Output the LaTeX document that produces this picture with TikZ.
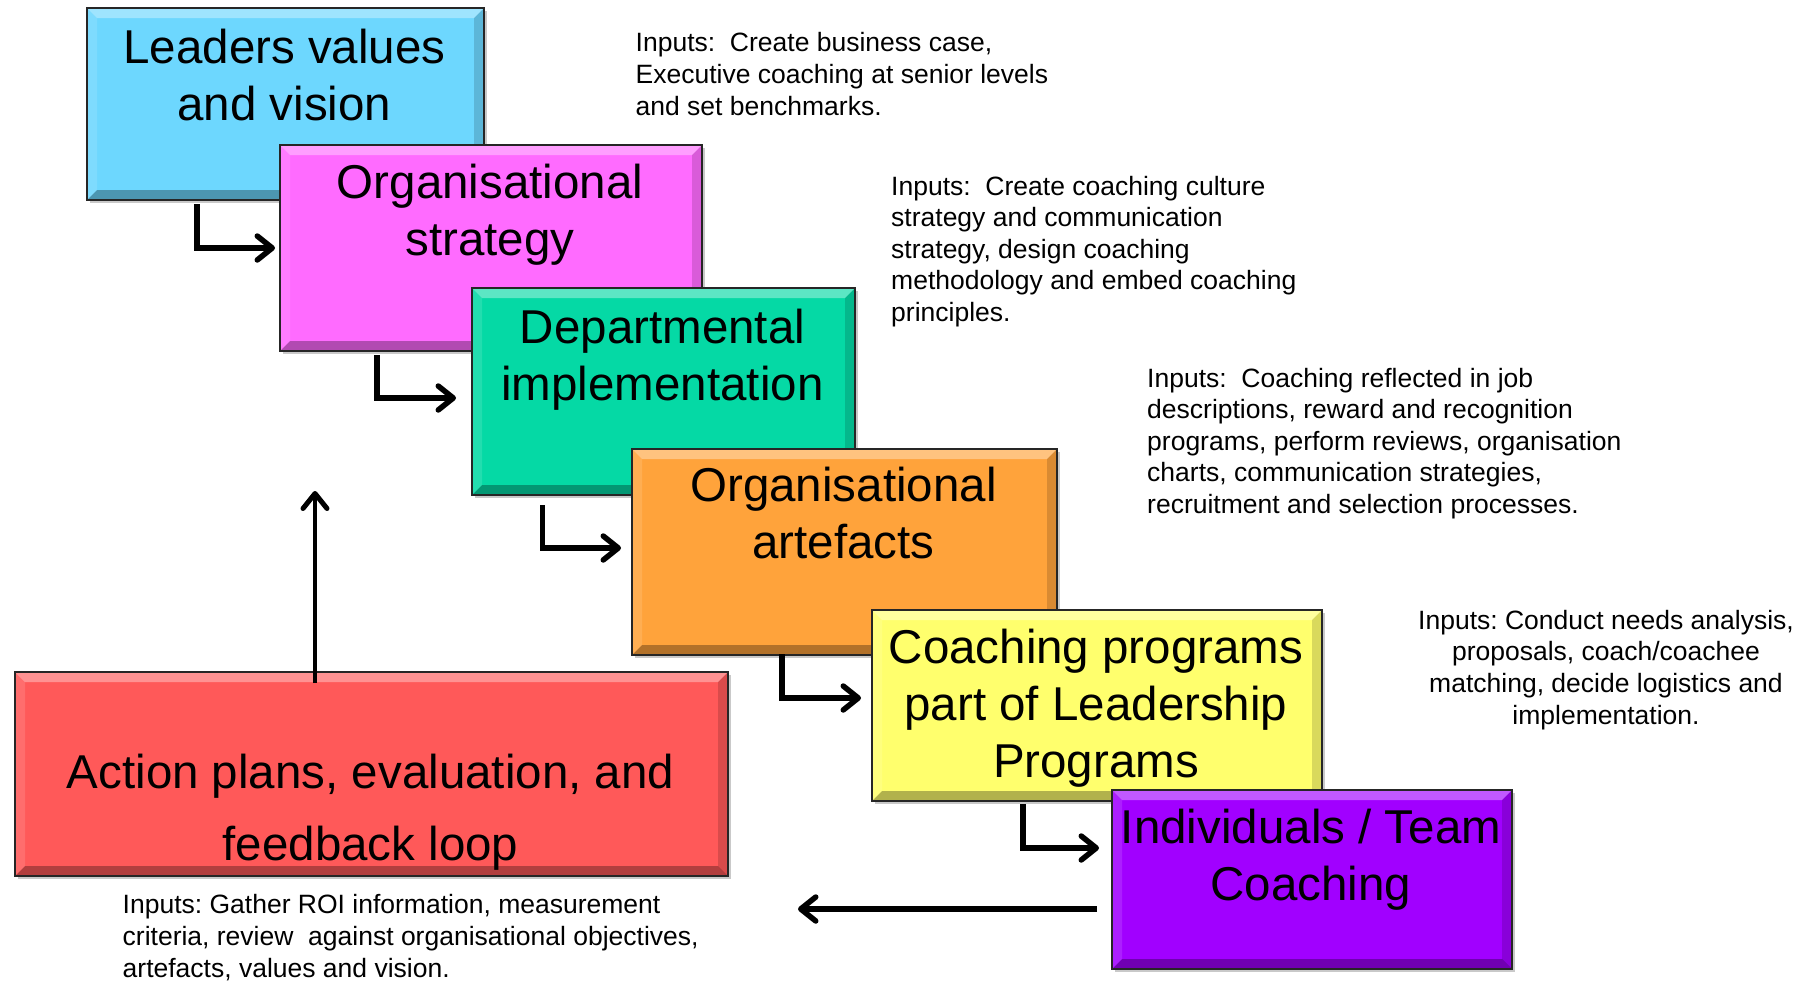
\documentclass[tikz,border=0pt]{standalone}
\usepackage{fontspec}
\setmainfont{Liberation Sans}
\frenchspacing
\usetikzlibrary{arrows.meta,shadows,calc}
\definecolor{cyanbox}{HTML}{6DD7FE}
\definecolor{magbox}{HTML}{FF6BFF}
\definecolor{greenbox}{HTML}{05D9A5}
\definecolor{orangebox}{HTML}{FFA33B}
\definecolor{yellowbox}{HTML}{FFFF6D}
\definecolor{purplebox}{HTML}{A100FF}
\definecolor{redbox}{HTML}{FF5959}
\tikzset{
  stepbox/.style={rectangle, draw=black!85, line width=2.2pt, inner sep=0pt, anchor=north west,
    drop shadow={shadow xshift=3pt, shadow yshift=-3pt, opacity=0.35, fill=black!60},
    path picture={
      \fill[white,opacity=0.35] (path picture bounding box.north west) -- (path picture bounding box.north east)
        -- ([shift={(-10pt,-10pt)}]path picture bounding box.north east) -- ([shift={(10pt,-10pt)}]path picture bounding box.north west) -- cycle;
      \fill[black,opacity=0.30] (path picture bounding box.south west) -- (path picture bounding box.south east)
        -- ([shift={(-10pt,10pt)}]path picture bounding box.south east) -- ([shift={(10pt,10pt)}]path picture bounding box.south west) -- cycle;
      \fill[black,opacity=0.15] (path picture bounding box.north east) -- (path picture bounding box.south east)
        -- ([shift={(-10pt,10pt)}]path picture bounding box.south east) -- ([shift={(-10pt,-10pt)}]path picture bounding box.north east) -- cycle;
      \fill[white,opacity=0.12] (path picture bounding box.north west) -- (path picture bounding box.south west)
        -- ([shift={(10pt,10pt)}]path picture bounding box.south west) -- ([shift={(10pt,-10pt)}]path picture bounding box.north west) -- cycle;
    }},
  boxtext/.style={anchor=base, align=center, inner sep=0pt, font=\fontsize{47.5}{57}\selectfont},
  redtext/.style={anchor=base, align=center, inner sep=0pt, font=\fontsize{47.5}{72}\selectfont},
  inputs/.style={anchor=base west, align=left, inner sep=0pt, font=\fontsize{26.5}{31.6}\selectfont},
  inputsc/.style={anchor=base, align=center, inner sep=0pt, font=\fontsize{26.5}{31.6}\selectfont},
  arr/.style={line width=5.2pt, -{Straight Barb[length=15pt,width=24pt,line width=5.5pt,round]}},
  arrthin/.style={line width=4.5pt, -{Straight Barb[length=15pt,width=24pt,line width=5pt,round]}},
}
\begin{document}
\begin{tikzpicture}[x=1pt,y=-1pt]
\useasboundingbox (0,0) rectangle (1813,982);
\fill[white] (0,0) rectangle (1813,982);

% boxes (text nodes placed by the baseline of their last line)
\node[stepbox, fill=cyanbox, minimum width=397pt, minimum height=192pt] (b1) at (86,7) {};
\node[boxtext] (t1) at (284.5,120) {Leaders values\\and vision};
\node[stepbox, fill=magbox, minimum width=422pt, minimum height=206pt] (b2) at (279,144) {};
\node[boxtext] (t2) at (490,255) {Organisational\\strategy};
\node[stepbox, fill=greenbox, minimum width=383pt, minimum height=207pt] (b3) at (471,287) {};
\node[boxtext] (t3) at (662.5,400) {Departmental\\implementation};
\node[stepbox, fill=orangebox, minimum width=425pt, minimum height=206pt] (b4) at (631,448) {};
\node[boxtext] (t4) at (843.5,558) {Organisational\\artefacts};
\node[stepbox, fill=yellowbox, minimum width=450pt, minimum height=191pt] (b5) at (871,609) {};
\node[boxtext] (t5) at (1096,777) {Coaching programs\\part of Leadership\\Programs};
\node[stepbox, fill=purplebox, minimum width=400pt, minimum height=179pt] (b6) at (1111,789) {};
\node[boxtext] (t6) at (1311,900) {Individuals / Team\\Coaching};
\node[stepbox, fill=redbox, minimum width=713pt, minimum height=204pt] (b7) at (14,671) {};
\node[redtext] (t7) at (370.5,860) {Action plans, evaluation, and\\feedback loop};

% input texts
\node[inputs] (i1) at (635.5,115) {Inputs:\ \ Create business case,\\Executive coaching at senior levels\\and set benchmarks.};
\node[inputs] (i2) at (891,321.5) {Inputs:\ \ Create coaching culture\\strategy and communication\\strategy, design coaching\\methodology and embed coaching\\principles.};
\node[inputs] (i3) at (1147,513.5) {Inputs:\ \ Coaching reflected in job\\descriptions, reward and recognition\\programs, perform reviews, organisation\\charts, communication strategies,\\recruitment and selection processes.};
\node[inputsc] (i4) at (1606,724) {Inputs: Conduct needs analysis,\\proposals, coach/coachee\\matching, decide logistics and\\implementation.};
\node[inputs] (i5) at (122.5,977) {Inputs: Gather ROI information, measurement\\criteria, review\ \ against organisational objectives,\\artefacts, values and vision.};

% connectors
\draw[arr] ([shift={(111pt,-3pt)}]b1.south west) |- ([shift={(-4pt,-104pt)}]b2.north west);
\draw[arr] ([shift={(98pt,-3pt)}]b2.south west) |- ([shift={(-15pt,-111pt)}]b3.north west);
\draw[arr] ([shift={(71.5pt,-9pt)}]b3.south west) |- ([shift={(-10pt,-100pt)}]b4.north west);
\draw[arr] ([shift={(151pt,2pt)}]b4.south west) |- ([shift={(-10pt,-89pt)}]b5.north west);
\draw[arr] ([shift={(152pt,-2pt)}]b5.south west) |- ([shift={(-12pt,-59pt)}]b6.north west);

\coordinate (fbtop) at (315,491);
\coordinate (fbleft) at (798,909);
\draw[arrthin] ([shift={(301pt,-12pt)}]b7.north west) -- (fbtop);
\draw[arr] ([xshift=-14pt]b6.west |- fbleft) -- (fbleft);
\end{tikzpicture}
\end{document}
